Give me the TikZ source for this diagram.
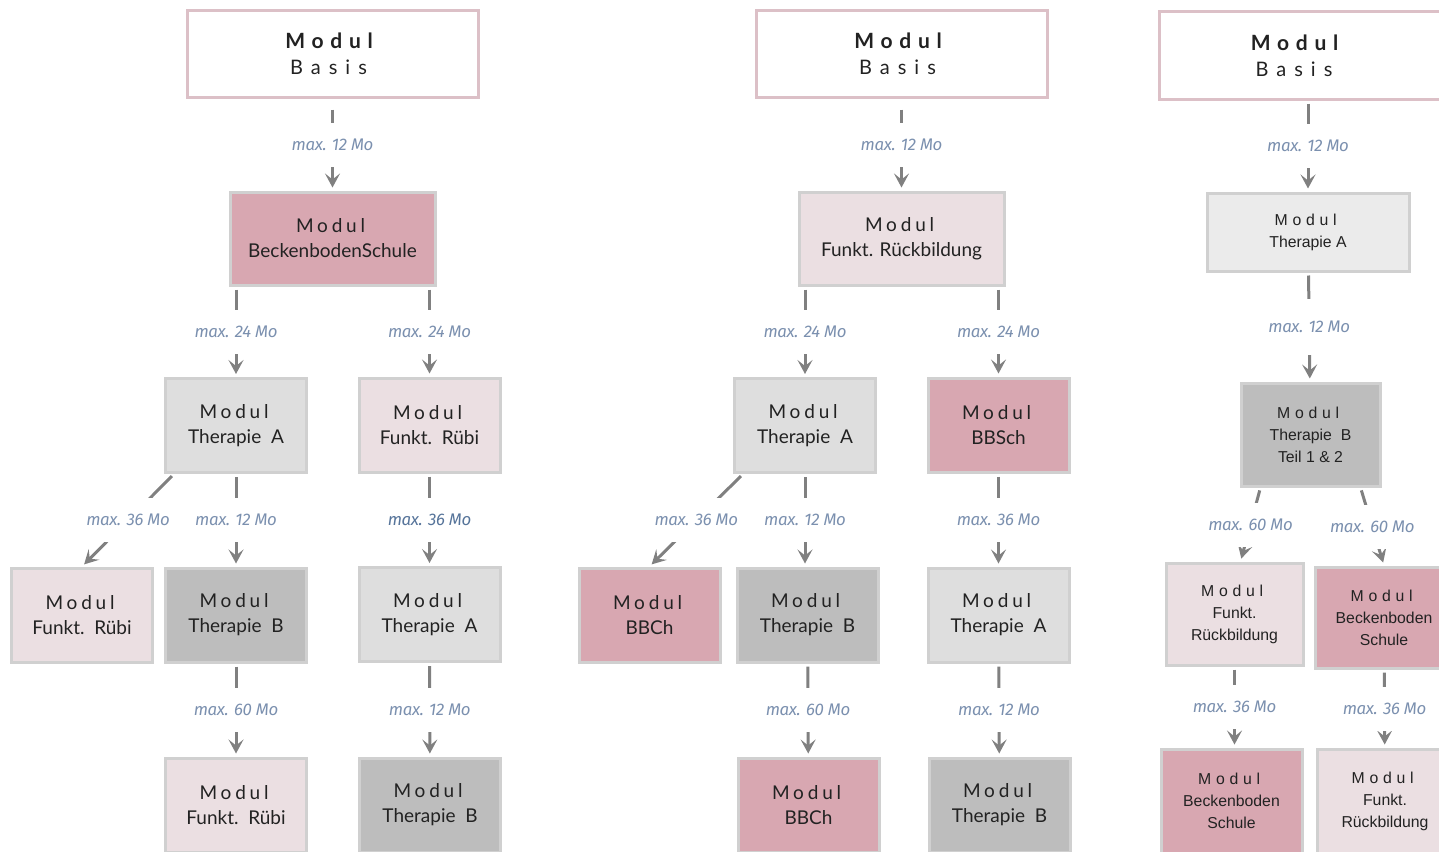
\documentclass[tikz,border=0pt]{standalone}
\usepackage{fontspec}
\setmainfont{Lato}
\newfontfamily\arialfont{Liberation Sans}
\newfontfamily\molabelfont[LetterSpace=-2]{Fira Sans}
\usetikzlibrary{arrows.meta}

\definecolor{basisline}{HTML}{DCC0C7}
\definecolor{boxline}{HTML}{D0D0D0}
\definecolor{fillrose}{HTML}{D8A7B1}
\definecolor{fillblush}{HTML}{EBDFE2}
\definecolor{fillgrey}{HTML}{DEDEDE}
\definecolor{fillsteel}{HTML}{BDBDBD}
\definecolor{fillpale}{HTML}{EBEBEB}
\definecolor{connline}{HTML}{808080}
\definecolor{molabel}{HTML}{7B90AF}
\definecolor{molabeldark}{HTML}{56749A}
\definecolor{boxtext}{HTML}{222222}

\newcommand\modul{{\addfontfeature{LetterSpace=20}\kern-0.2em Modul}}
\newcommand\modulr{{\addfontfeature{LetterSpace=30}\kern-0.3em Modul}}
\newcommand\basistext{{\bfseries\fontsize{10.5}{13}\selectfont\addfontfeature{LetterSpace=32}\kern-0.32em Modul}\\{\addfontfeature{LetterSpace=40}\kern-0.4em Basis}}

\begin{document}
\begin{tikzpicture}[x=0.5pt, y=-0.5pt,
    mbox/.style={rectangle, draw=boxline, line width=1.5pt, minimum width=70.5pt,
      minimum height=47pt, inner sep=0pt, align=center, text=boxtext,
      font=\fontsize{9.5}{12.5}\selectfont},
    basisbox/.style={mbox, draw=basisline, fill=white, minimum width=145.5pt,
      minimum height=43.5pt, font=\fontsize{10}{13}\selectfont},
    widebox/.style={minimum width=102.5pt, minimum height=46.5pt},
    arialbox/.style={mbox, font=\arialfont\fontsize{7.9}{11}\selectfont},
    conn/.style={draw=connline, line width=1.5pt,
      -{Stealth[length=7pt, width=7.5pt, inset=3pt]},
      shorten <=1.5pt, shorten >=1.5pt},
    mo/.style={fill=white, inner sep=0pt, minimum width=42pt, minimum height=22pt,
      text=molabel, font=\molabelfont\itshape\fontsize{8.4}{9}\selectfont}]
    \useasboundingbox (0,0) rectangle (1439,851);
    \clip (0,0) rectangle (1439,851);

    \node[basisbox] (basisL) at (332.5,53.5) {\basistext};
    \node[mbox, widebox, fill=fillrose] (bbsL) at (332.5,238.5) {\modul\\BeckenbodenSchule};
    \node[mbox, fill=fillgrey] (taL) at (236,425.5) {\modul\\Therapie\ \ A};
    \node[mbox, fill=fillblush] (frL) at (429.5,425) {\modul\\Funkt.\ \ Rübi};
    \node[mbox, fill=fillblush] (fr2L) at (82,615) {\modul\\Funkt.\ \ Rübi};
    \node[mbox, fill=fillsteel] (tbL) at (236,615) {\modul\\Therapie\ \ B};
    \node[mbox, fill=fillgrey] (ta2L) at (429.5,614.5) {\modul\\Therapie\ \ A};
    \node[mbox, fill=fillblush] (fr3L) at (236,805) {\modul\\Funkt.\ \ Rübi};
    \node[mbox, fill=fillsteel] (tb2L) at (430,805) {\modul\\Therapie\ \ B};

    \node[basisbox] (basisM) at (901.5,53.5) {\basistext};
    \node[mbox, widebox, fill=fillblush] (frbM) at (901.5,238.5) {\modul\\Funkt. Rückbildung};
    \node[mbox, fill=fillgrey] (taM) at (805,425.5) {\modul\\Therapie\ \ A};
    \node[mbox, fill=fillrose] (bbsM) at (998.5,425) {\modul\\BBSch};
    \node[mbox, fill=fillrose] (bbcM) at (649.5,615) {\modul\\BBCh};
    \node[mbox, fill=fillsteel] (tbM) at (807.5,615) {\modul\\Therapie\ \ B};
    \node[mbox, fill=fillgrey] (ta2M) at (998.5,615) {\modul\\Therapie\ \ A};
    \node[mbox, fill=fillrose] (bbc2M) at (808.5,805) {\modul\\BBCh};
    \node[mbox, fill=fillsteel] (tb2M) at (999.5,805) {\modul\\Therapie\ \ B};

    \node[basisbox, minimum width=155.5pt, minimum height=44pt] (basisR) at (1314.5,55) {};
    \node[align=center, inner sep=0pt, text=boxtext, font=\fontsize{10}{13}\selectfont]
      (basisRtext) at (1298,56) {\basistext};
    \node[arialbox, fill=fillpale, minimum width=101pt, minimum height=39pt] (taR) at (1308,232) {\modulr\\Therapie A};
    \node[arialbox, fill=fillsteel, minimum width=69.5pt, minimum height=51.5pt] (tbR) at (1310.5,434.5) {\modulr\\Therapie\ \ B\\Teil 1 \& 2};
    \node[arialbox, fill=fillblush, minimum width=68.5pt, minimum height=51pt] (frbR) at (1234.5,614) {\modulr\\Funkt.\\Rückbildung};
    \node[arialbox, fill=fillrose, minimum width=69pt, minimum height=50.5pt] (bbsR) at (1384,617.5) {\modulr\\Beckenboden\\Schule};
    \node[arialbox, fill=fillrose, minimum width=70.5pt, minimum height=52pt] (bbs2R) at (1231.5,801) {\modulr\\Beckenboden\\Schule};
    \node[arialbox, fill=fillblush, minimum width=68pt, minimum height=52pt] (frb2R) at (1385,801) {\modulr\\Funkt.\\Rückbildung};

    \draw[conn, shorten <=5.5pt] (basisL) -- (bbsL) node[mo, midway] {max. 12 Mo};
    \draw[conn] (bbsL.south -| taL.north) -- (taL) node[mo, midway] {max. 24 Mo};
    \draw[conn] (bbsL.south -| frL.north) -- (frL) node[mo, midway] {max. 24 Mo};
    \draw[conn] ([xshift=5pt]taL.south west) -- (fr2L.north) node[mo, midway] {max. 36 Mo};
    \draw[conn] (taL) -- (tbL) node[mo, midway] {max. 12 Mo};
    \draw[conn] (frL) -- (ta2L) node[mo, midway, text=molabeldark] {max. 36 Mo};
    \draw[conn] (tbL) -- (fr3L) node[mo, midway] {max. 60 Mo};
    \draw[conn] (ta2L) -- (tb2L) node[mo, midway] {max. 12 Mo};

    \draw[conn, shorten <=5.5pt] (basisM) -- (frbM) node[mo, midway] {max. 12 Mo};
    \draw[conn] (frbM.south -| taM.north) -- (taM) node[mo, midway] {max. 24 Mo};
    \draw[conn] (frbM.south -| bbsM.north) -- (bbsM) node[mo, midway] {max. 24 Mo};
    \draw[conn] ([xshift=5pt]taM.south west) -- (bbcM.north) node[mo, midway] {max. 36 Mo};
    \draw[conn] (taM.south) -- (taM.south |- tbM.north) node[mo, midway] {max. 12 Mo};
    \draw[conn] (bbsM) -- (ta2M) node[mo, midway] {max. 36 Mo};
    \draw[conn] (tbM) -- (bbc2M) node[mo, midway] {max. 60 Mo};
    \draw[conn] (ta2M) -- (tb2M) node[mo, midway] {max. 12 Mo};

    \draw[conn] (basisR.south -| taR.north) -- (taR) node[mo, midway] {max. 12 Mo};
    \draw[conn] (taR) -- (tbR) node[mo, midway, minimum height=28pt] {max. 12 Mo};
    \draw[conn] ([xshift=-25pt]tbR.south) -- ([xshift=3pt]frbR.north) node[mo, midway] {max. 60 Mo};
    \draw[conn] ([xshift=25pt]tbR.south) -- (bbsR.north) node[mo, midway] {max. 60 Mo};
    \draw[conn] (frbR.south) -- (frbR.south |- bbs2R.north) node[mo, midway] {max. 36 Mo};
    \draw[conn] (bbsR) -- (frb2R) node[mo, midway] {max. 36 Mo};
\end{tikzpicture}
\end{document}
